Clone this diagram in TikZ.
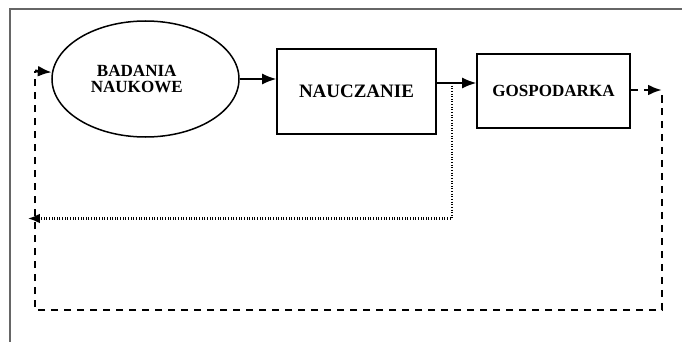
\documentclass[tikz,border=0pt]{standalone}
\usepackage{fontspec}
\setmainfont{Liberation Serif}
\usetikzlibrary{shapes.geometric,arrows.meta}

\begin{document}
\begin{tikzpicture}[
	label text/.style={font=\bfseries\fontsize{9.7}{9.3}\selectfont, align=center},
	research/.style={ellipse, draw, line width=0.3mm, inner sep=0pt, minimum width=3.74cm, minimum height=2.32cm, label text},
	stage/.style={rectangle, draw, line width=0.35mm, inner sep=0pt, label text},
	flow/.style={line width=0.25mm, -{Latex[length=2.8mm,width=2.2mm]}},
	feedback/.style={line width=0.55mm, dash pattern=on 0.15cm off 0.11cm},
	back link/.style={line width=0.45mm, dash pattern=on 0.5pt off 1pt}
]
	\useasboundingbox (0, 0) rectangle (13.64, -6.84);
	\draw[gray!80!black, line width=0.3mm] (0.2, -6.84) -- (0.2, -0.18) -- (13.64, -0.18);

	\node[research] (badania) at (2.91, -1.58) {BADANIA\hspace*{0.35cm}\\NAUKOWE\hspace*{0.35cm}};
	\node[stage, minimum width=3.18cm, minimum height=1.7cm, font=\bfseries\fontsize{10.8}{11}\selectfont] (nauczanie) at (7.13, -1.83) {NAUCZANIE};
	\node[stage, minimum width=3.06cm, minimum height=1.48cm] (gospodarka) at (11.07, -1.82) {GOSPODARKA};

	\coordinate (fork) at (9.04, -1.66);
	\coordinate (dot corner) at (9.04, -4.37);
	\coordinate (dot end) at (0.56, -4.37);
	\coordinate (right top) at (13.24, -1.8);
	\coordinate (right bottom) at (13.24, -6.2);
	\coordinate (left bottom) at (0.7, -6.2);
	\coordinate (left top) at (0.7, -1.42);

	% Draw the main flow between the nodes
	\draw[flow] (badania.east) -- (badania.east -| nauczanie.west);
	\draw[flow] (nauczanie.east |- fork) -- (gospodarka.west |- fork);

	% Draw the dotted link back from teaching
	\draw[back link, -{Latex[length=2.4mm,width=2mm]}] (fork) -- (dot corner) -- (dot end);

	% Draw the dashed loop from the economy back to research
	\draw[feedback, -{Latex[length=2.8mm,width=2.2mm]}] (gospodarka.east |- right top) -- (right top);
	\draw[feedback] ([yshift=-0.1cm]right top) -- (right bottom) -- (left bottom) -- (left top);
	\draw[feedback, -{Latex[length=2.8mm,width=2.2mm]}] (left top) -- (badania);
\end{tikzpicture}
\end{document}
